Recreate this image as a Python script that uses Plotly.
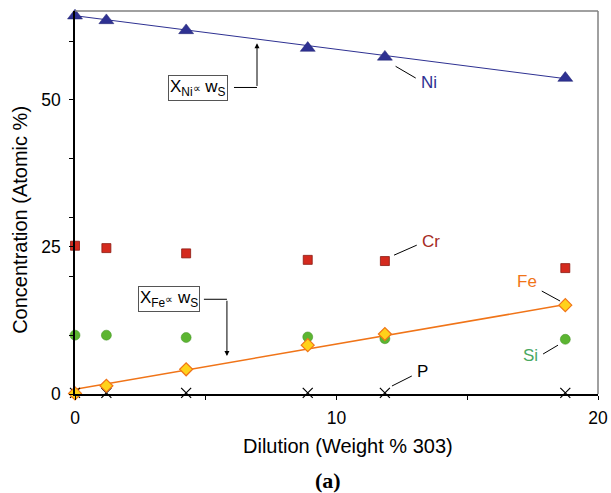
import plotly.graph_objects as go

dilution = [0, 1.2, 4.25, 8.9, 11.85, 18.75]
ni = [64.3, 63.5, 61.8, 58.8, 57.3, 53.7]
cr = [25.2, 24.8, 23.9, 22.8, 22.6, 21.4]
si = [10.0, 10.0, 9.6, 9.7, 9.4, 9.3]
fe = [0.1, 1.4, 4.2, 8.3, 10.2, 15.1]
p = [0.2, 0.2, 0.2, 0.2, 0.2, 0.2]

fit_x = [0, 18.75]
ni_fit = [64.3, 53.6]
fe_fit = [0.8, 15.2]

NAVY = "#2e3192"
RED = "#d42a1e"
ORANGE = "#f07418"
GREEN = "#5cb531"
FONT = "Liberation Sans, Arial, sans-serif"

fig = go.Figure()
fig.add_trace(go.Scatter(x=fit_x, y=ni_fit, mode="lines", line=dict(color=NAVY, width=1), hoverinfo="skip"))
fig.add_trace(go.Scatter(x=fit_x, y=fe_fit, mode="lines", line=dict(color=ORANGE, width=1.5), hoverinfo="skip"))
fig.add_trace(go.Scatter(x=dilution, y=ni, mode="markers", name="Ni", cliponaxis=False,
                         marker=dict(symbol="triangle-up", size=13, color=NAVY, line=dict(color="#1e2070", width=0.5))))
fig.add_trace(go.Scatter(x=dilution, y=cr, mode="markers", name="Cr", cliponaxis=False,
                         marker=dict(symbol="square", size=9, color=RED, line=dict(color="#8a1a12", width=0.8))))
fig.add_trace(go.Scatter(x=dilution, y=si, mode="markers", name="Si", cliponaxis=False,
                         marker=dict(symbol="circle", size=10, color=GREEN, line=dict(color="#3f8f20", width=0.5))))
fig.add_trace(go.Scatter(x=dilution, y=p, mode="markers", name="P", cliponaxis=False,
                         marker=dict(symbol="x-thin", size=10, color="black", line=dict(color="black", width=1.2))))
fig.add_trace(go.Scatter(x=dilution, y=fe, mode="markers", name="Fe", cliponaxis=False,
                         marker=dict(symbol="diamond", size=10, color="#ffd21a", line=dict(color=ORANGE, width=1.2))))

shapes = []
shapes.append(dict(type="line", xref="paper", yref="paper", x0=0, x1=1, y0=1, y1=1, line=dict(color="#808080", width=1.5)))
shapes.append(dict(type="line", xref="paper", yref="paper", x0=1, x1=1, y0=0, y1=1, line=dict(color="#808080", width=1.5)))
leaders = [
    (12.26, 55.7, 13.03, 53.7),
    (12.2, 23.6, 13.07, 25.3),
    (17.85, 17.5, 18.55, 15.8),
    (17.9, 6.8, 18.47, 8.3),
    (12.12, 1.36, 12.88, 3.06),
]
for x0, y0, x1, y1 in leaders:
    shapes.append(dict(type="line", x0=x0, y0=y0, x1=x1, y1=y1, line=dict(color="black", width=1)))
shapes.append(dict(type="line", x0=6.08, x1=6.96, y0=52.1, y1=52.1, line=dict(color="black", width=1)))
shapes.append(dict(type="line", x0=4.93, x1=5.81, y0=16.1, y1=16.1, line=dict(color="black", width=1)))

annotations = [
    dict(x=13.55, y=52.9, text="Ni", showarrow=False, font=dict(color=NAVY, size=17, family=FONT)),
    dict(x=13.6, y=26.0, text="Cr", showarrow=False, font=dict(color="#a52a22", size=17, family=FONT)),
    dict(x=17.27, y=19.2, text="Fe", showarrow=False, font=dict(color=ORANGE, size=17, family=FONT)),
    dict(x=17.4, y=6.5, text="Si", showarrow=False, font=dict(color="#48a860", size=17, family=FONT)),
    dict(x=13.3, y=3.8, text="P", showarrow=False, font=dict(color="black", size=17, family=FONT)),
    dict(x=4.72, y=52.0, text="X<sub>Ni</sub><span style='font-size:11px'>∝</span> w<sub>S</sub>", showarrow=False,
         font=dict(color="black", size=17, family=FONT), bordercolor="#555555", borderwidth=1, borderpad=1, bgcolor="white"),
    dict(x=3.58, y=16.1, text="X<sub>Fe</sub><span style='font-size:11px'>∝</span> w<sub>S</sub>", showarrow=False,
         font=dict(color="black", size=17, family=FONT), bordercolor="#555555", borderwidth=1, borderpad=1, bgcolor="white"),
    dict(x=6.96, y=59.6, ax=6.96, ay=52.1, xref="x", yref="y", axref="x", ayref="y", text="", showarrow=True,
         arrowhead=2, arrowsize=1, arrowwidth=1, arrowcolor="black"),
    dict(x=5.81, y=6.45, ax=5.81, ay=16.1, xref="x", yref="y", axref="x", ayref="y", text="", showarrow=True,
         arrowhead=2, arrowsize=1, arrowwidth=1, arrowcolor="black"),
    dict(x=0.522, y=-0.137, xref="paper", yref="paper", text="Dilution (Weight % 303)", showarrow=False,
         font=dict(color="black", size=20, family=FONT), yanchor="middle", xanchor="center"),
    dict(x=-0.105, y=0.455, xref="paper", yref="paper", text="Concentration (Atomic %)", showarrow=False,
         textangle=-90, font=dict(color="black", size=20, family=FONT), yanchor="middle", xanchor="center"),
    dict(x=0.484, y=-0.225, xref="paper", yref="paper", text="<b>(a)</b>", showarrow=False,
         font=dict(color="black", size=22, family="Liberation Serif, Times New Roman, serif"), yanchor="middle"),
]

fig.update_layout(
    width=611, height=493,
    margin=dict(l=75, r=13, t=11, b=99, autoexpand=False),
    paper_bgcolor="white", plot_bgcolor="white",
    showlegend=False,
    font=dict(family=FONT, size=17, color="black"),
    shapes=shapes,
    annotations=annotations,
    xaxis=dict(range=[0, 20], tickvals=[0, 10, 20], showgrid=False, zeroline=False, automargin=False,
               showline=True, linecolor="black", linewidth=1.5, ticks="outside", ticklen=4, tickcolor="black",
               minor=dict(tickvals=[5, 15], ticks="outside", ticklen=4, tickcolor="black"),
               ticklabelstandoff=3, tickfont=dict(size=17.5)),
    yaxis=dict(range=[0, 65.1], tickvals=[0, 25, 50], showgrid=False, zeroline=False, automargin=False,
               showline=True, linecolor="black", linewidth=1.5, ticks="outside", ticklen=4, tickcolor="black",
               minor=dict(tickvals=[10, 20, 30, 40, 60], ticks="outside", ticklen=4, tickcolor="black"),
               ticklabelstandoff=5, tickfont=dict(size=17.5)),
)

fig.write_html("out.html", config={"displayModeBar": False},
               post_script="document.body.style.margin='0px';")
